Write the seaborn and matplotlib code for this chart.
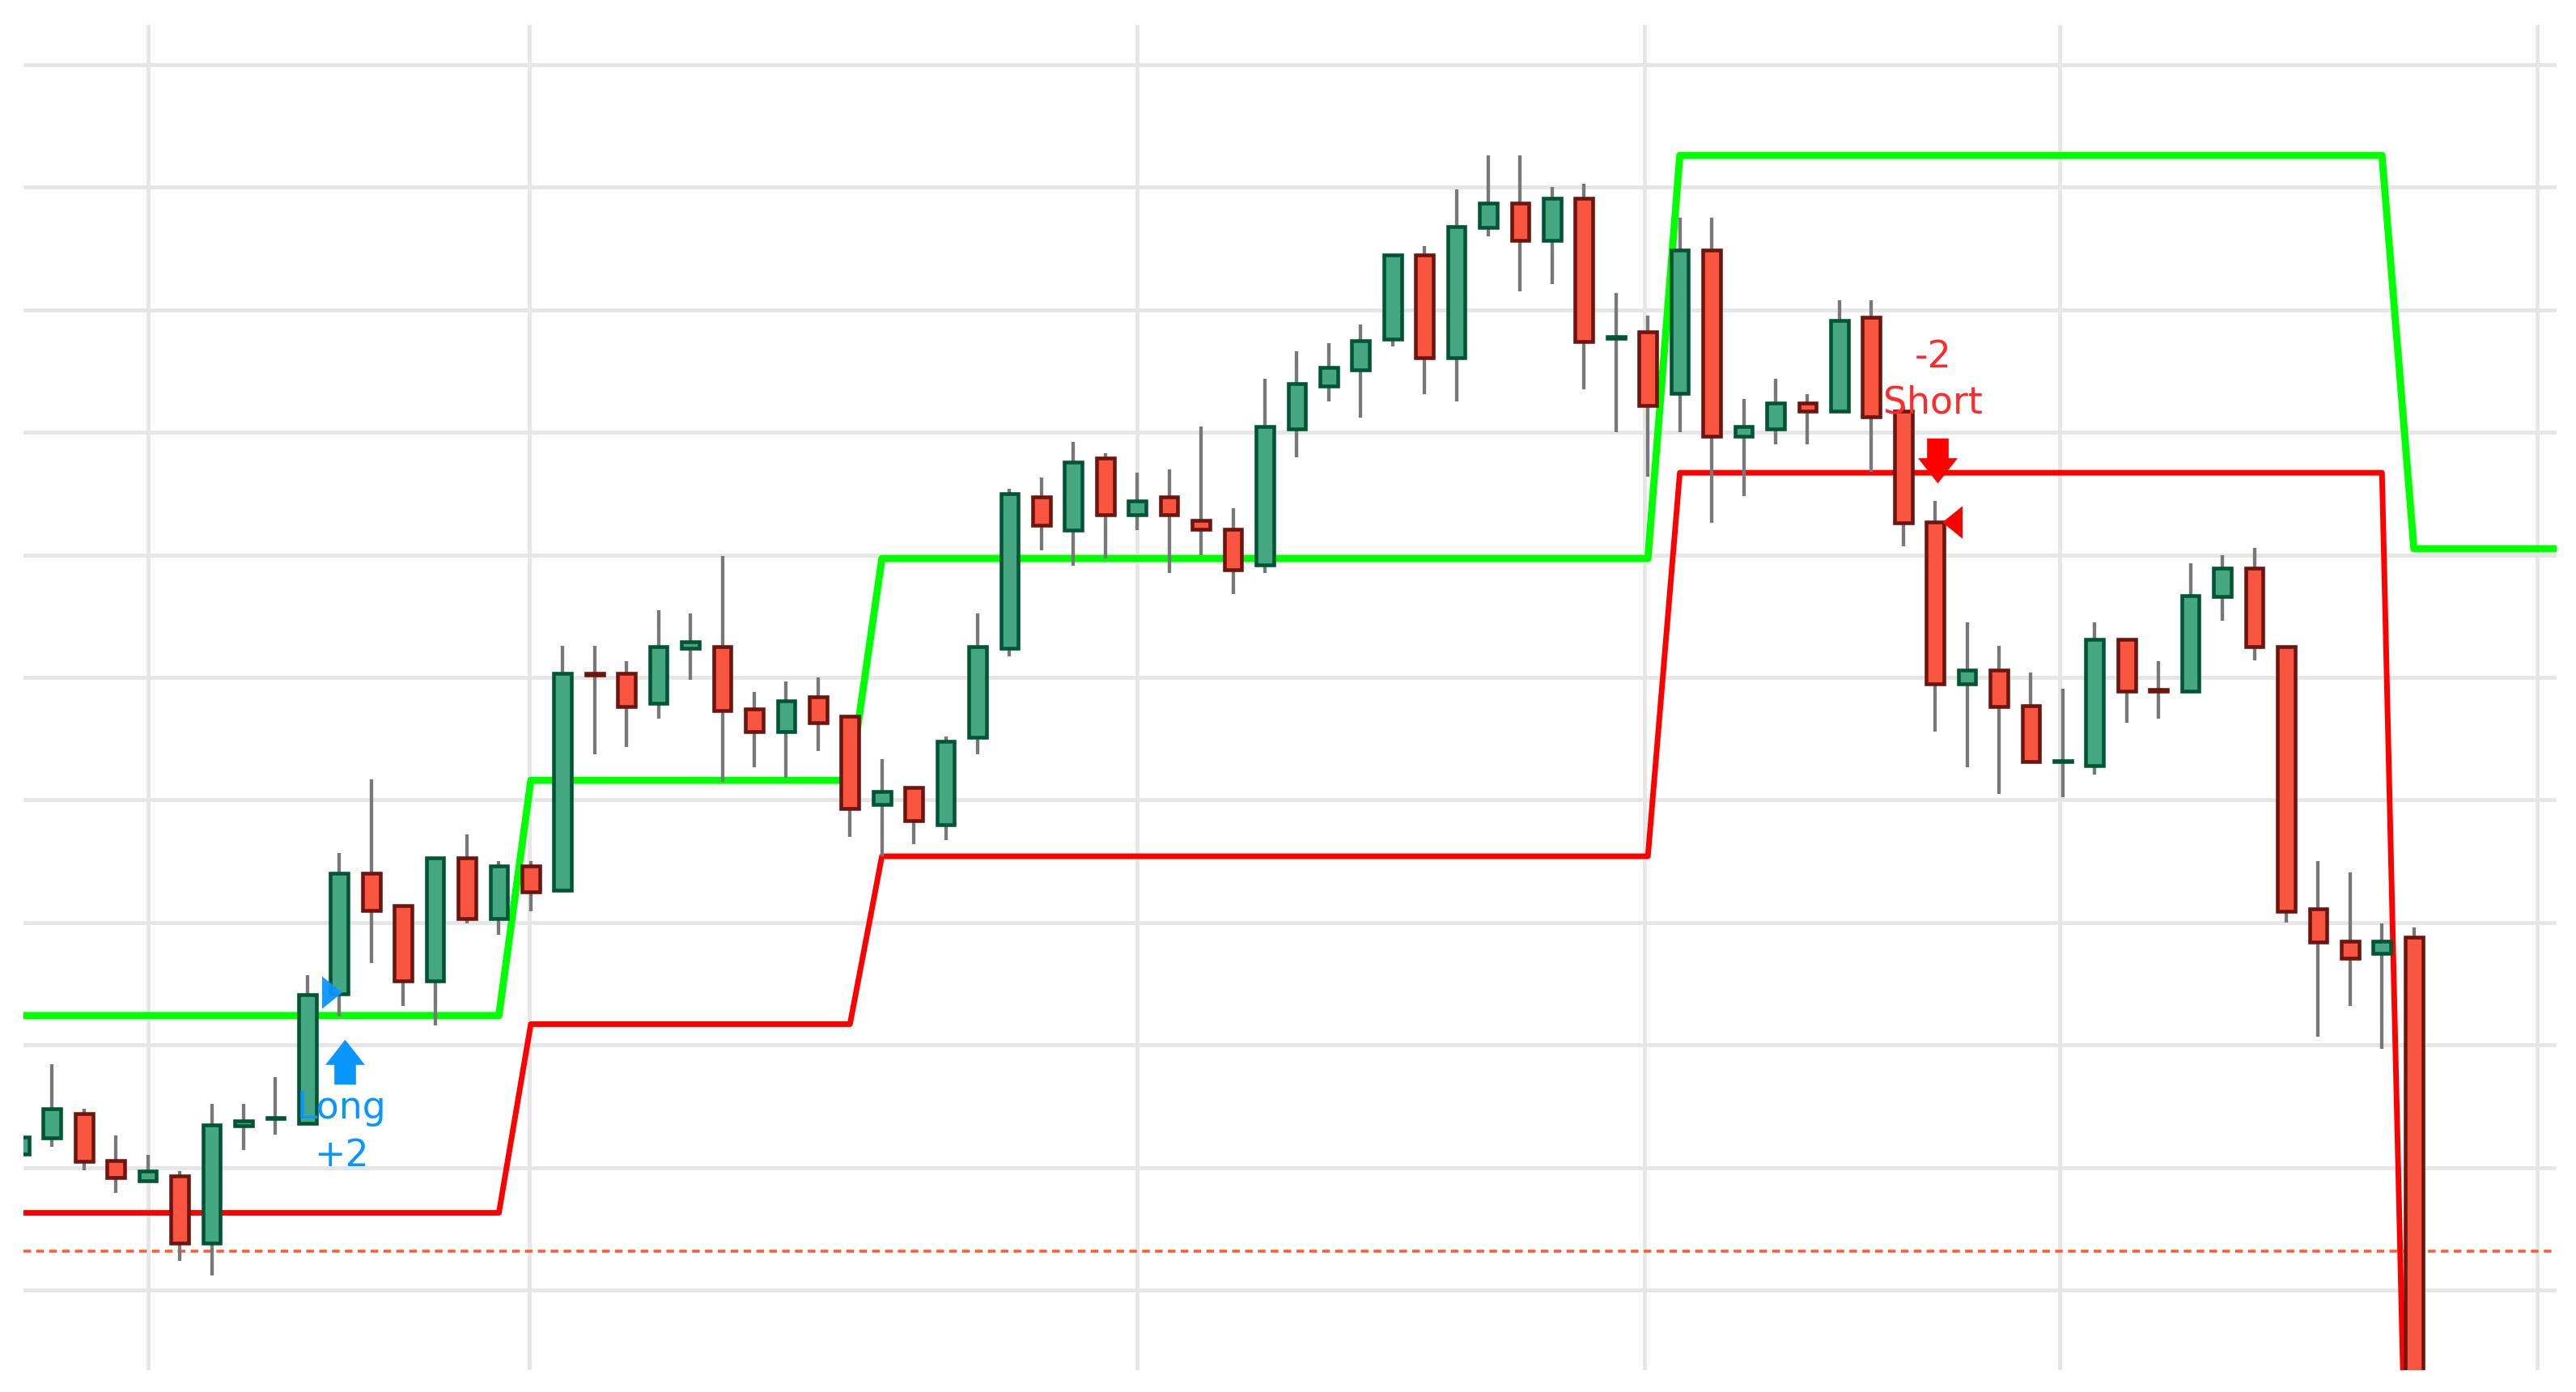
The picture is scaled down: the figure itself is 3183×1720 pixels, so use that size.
import numpy as np
import pandas as pd
import matplotlib.pyplot as plt
import seaborn as sns

# candle data (price in grid units, one gridline = 1.0)
opens = [1.11, 1.24, 1.44, 1.06, 0.89, 0.93, 0.38, 1.34, 1.40, 1.36,
         2.42, 3.40, 3.14, 2.52, 3.53, 3.03, 3.46, 3.26, 5.03, 5.03,
         4.79, 5.24, 5.25, 4.74, 4.56, 4.84, 4.68, 3.96, 4.10, 3.80,
         4.51, 5.24, 6.47, 6.20, 6.79, 6.33, 6.47, 6.28, 6.21, 5.92,
         7.03, 7.38, 7.51, 7.76, 8.45, 7.61, 8.67, 8.87, 8.57, 8.91,
         7.77, 7.82, 7.32, 8.49, 6.97, 7.03, 7.24, 7.17, 7.94, 7.17,
         6.27, 4.95, 5.06, 4.77, 4.31, 4.28, 5.31, 4.90, 4.89, 5.66,
         5.89, 5.25, 3.11, 2.85, 2.75, 2.88]
highs = [1.30, 1.84, 1.48, 1.26, 1.10, 0.97, 1.52, 1.52, 1.74, 2.57,
         3.57, 4.17, 3.14, 3.53, 3.72, 3.50, 3.50, 5.26, 5.26, 5.13,
         5.55, 5.52, 5.99, 4.88, 4.97, 5.00, 4.68, 4.33, 4.10, 4.52,
         5.52, 6.54, 6.63, 6.92, 6.83, 6.67, 6.70, 7.05, 6.38, 7.44,
         7.66, 7.73, 7.88, 8.45, 8.52, 8.98, 9.26, 9.26, 9.00, 9.03,
         8.14, 7.95, 8.75, 8.75, 7.27, 7.44, 7.31, 8.08, 8.08, 7.21,
         6.44, 5.45, 5.26, 5.04, 4.91, 5.45, 5.31, 5.13, 5.93, 6.00,
         6.06, 5.25, 3.50, 3.41, 2.99, 2.96]
lows = [1.05, 1.17, 0.98, 0.79, 0.89, 0.24, 0.12, 1.14, 1.27, 1.36,
        2.23, 2.67, 2.32, 2.16, 2.99, 2.90, 3.09, 3.26, 4.37, 4.43,
        4.66, 4.98, 4.15, 4.27, 4.18, 4.40, 3.70, 3.54, 3.64, 3.67,
        4.37, 5.17, 6.04, 5.91, 5.97, 6.20, 5.85, 6.00, 5.68, 5.85,
        6.80, 7.25, 7.12, 7.70, 7.31, 7.25, 8.60, 8.15, 8.21, 7.35,
        7.00, 6.64, 7.00, 6.26, 6.48, 6.90, 6.90, 7.17, 6.68, 6.07,
        4.56, 4.27, 4.05, 4.31, 4.02, 4.21, 4.63, 4.66, 4.89, 5.46,
        5.14, 3.00, 2.07, 2.32, 1.97, -1.90]
closes = [1.25, 1.48, 1.05, 0.92, 0.97, 0.38, 1.35, 1.38, 1.41, 2.41,
          3.40, 3.10, 2.52, 3.53, 3.03, 3.46, 3.25, 5.03, 5.02, 4.76,
          5.25, 5.29, 4.73, 4.56, 4.81, 4.63, 3.93, 4.07, 3.83, 4.48,
          5.25, 6.50, 6.24, 6.76, 6.33, 6.44, 6.33, 6.21, 5.88, 7.05,
          7.40, 7.53, 7.75, 8.45, 7.61, 8.68, 8.87, 8.57, 8.91, 7.74,
          7.78, 7.22, 8.49, 6.97, 7.05, 7.24, 7.17, 7.91, 7.13, 6.26,
          4.95, 5.06, 4.76, 4.31, 4.32, 5.31, 4.89, 4.89, 5.67, 5.89,
          5.25, 3.09, 2.84, 2.71, 2.85, -1.60]

# channel bands (one value per bar, continuing past the last candle)
upper_band = [2.24, 2.24, 2.24, 2.24, 2.24, 2.24, 2.24, 2.24, 2.24, 2.24,
              2.24, 2.24, 2.24, 2.24, 2.24, 2.24, 4.16, 4.16, 4.16, 4.16,
              4.16, 4.16, 4.16, 4.16, 4.16, 4.16, 4.16, 5.97, 5.97, 5.97,
              5.97, 5.97, 5.97, 5.97, 5.97, 5.97, 5.97, 5.97, 5.97, 5.97,
              5.97, 5.97, 5.97, 5.97, 5.97, 5.97, 5.97, 5.97, 5.97, 5.97,
              5.97, 5.97, 9.26, 9.26, 9.26, 9.26, 9.26, 9.26, 9.26, 9.26,
              9.26, 9.26, 9.26, 9.26, 9.26, 9.26, 9.26, 9.26, 9.26, 9.26,
              9.26, 9.26, 9.26, 9.26, 9.26, 6.05, 6.05, 6.05, 6.05, 6.05,
              6.05]
lower_band = [0.63, 0.63, 0.63, 0.63, 0.63, 0.63, 0.63, 0.63, 0.63, 0.63,
              0.63, 0.63, 0.63, 0.63, 0.63, 0.63, 2.17, 2.17, 2.17, 2.17,
              2.17, 2.17, 2.17, 2.17, 2.17, 2.17, 2.17, 3.54, 3.54, 3.54,
              3.54, 3.54, 3.54, 3.54, 3.54, 3.54, 3.54, 3.54, 3.54, 3.54,
              3.54, 3.54, 3.54, 3.54, 3.54, 3.54, 3.54, 3.54, 3.54, 3.54,
              3.54, 3.54, 6.67, 6.67, 6.67, 6.67, 6.67, 6.67, 6.67, 6.67,
              6.67, 6.67, 6.67, 6.67, 6.67, 6.67, 6.67, 6.67, 6.67, 6.67,
              6.67, 6.67, 6.67, 6.67, 6.67, -4.50, -4.50, -4.50, -4.50, -4.50,
              -4.50]

stop_level = 0.32
grid_x = [4.0, 15.95, 35.0, 50.9, 63.9, 78.85]
grid_y = [0, 1, 2, 3, 4, 5, 6, 7, 8, 9, 10]

# trade signals
signal_arrow_x = [10.17, 60.08]
signal_arrow_y = [1.865, 6.77]
entry_x = [9.77, 60.53]
entry_y = [2.43, 6.27]
long_text = ["Long", "+2"]
long_text_y = [1.40, 1.01]
long_text_x = 10.07
short_text = ["-2", "Short"]
short_text_y = [7.53, 7.155]
short_text_x = 59.94

BLUE = "#0a96ff"
RED = "#ff0000"


def main():
    sns.set_theme(style="whitegrid",
                  rc={"grid.color": "#e6e6e6", "grid.linewidth": 3.5})
    plt.rcParams['font.family'] = ['DejaVu Sans']

    df = pd.DataFrame({"open": opens, "high": highs, "low": lows, "close": closes})
    df["x"] = np.arange(len(df))
    bands = pd.DataFrame({"upper": upper_band, "lower": lower_band})
    bands["x"] = np.arange(len(bands))

    fig = plt.figure(figsize=(31.83, 17.20), dpi=100)
    ax = fig.add_axes([0.00911, 0.0157, 0.98335, 0.96628])

    # channel lines behind the candles
    sns.lineplot(data=bands, x="x", y="upper", color="#00ff00", linewidth=6.4,
                 ax=ax, zorder=2, legend=False)
    sns.lineplot(data=bands, x="x", y="lower", color=RED, linewidth=5.0,
                 ax=ax, zorder=2, legend=False)
    ax.axhline(stop_level, color="#ff5a3c", linewidth=2.6,
               linestyle=(0, (2.6, 1.8)), zorder=2)

    # candles
    up = df["close"] >= df["open"]
    fill = np.where(up, "#45a883", "#f95541")
    edge = np.where(up, "#005535", "#6e1510")
    ax.vlines(df["x"], df["low"], df["high"], color="#787878",
              linewidth=3.1, zorder=3)
    bottom = df[["open", "close"]].min(axis=1)
    height = (df["close"] - df["open"]).abs()
    ax.bar(df["x"], height, bottom=bottom, width=0.55, color=fill,
           edgecolor=edge, linewidth=3.3, zorder=4)

    # signal markers
    arrow_up = [(0, 1), (-0.88, -0.12), (-0.48, -0.12), (-0.48, -1),
                (0.48, -1), (0.48, -0.12), (0.88, -0.12), (0, 1)]
    arrow_down = [(vx, -vy) for vx, vy in arrow_up]
    tri_right = [(-0.62, 1), (0.62, 0), (-0.62, -1), (-0.62, 1)]
    tri_left = [(-vx, vy) for vx, vy in tri_right]

    ax.plot(signal_arrow_x[0], signal_arrow_y[0], marker=arrow_up, ms=40,
            color=BLUE, mew=0, ls="none", zorder=6)
    ax.plot(signal_arrow_x[1], signal_arrow_y[1], marker=arrow_down, ms=40,
            color=RED, mew=0, ls="none", zorder=6)
    ax.plot(entry_x[0], entry_y[0], marker=tri_right, ms=29,
            color=BLUE, mew=0, ls="none", zorder=6, alpha=0.95)
    ax.plot(entry_x[1], entry_y[1], marker=tri_left, ms=29,
            color=RED, mew=0, ls="none", zorder=6)

    for label, ty in zip(long_text, long_text_y):
        ax.text(long_text_x, ty, label, color=BLUE, fontsize=33,
                ha="center", va="baseline", zorder=7)
    for label, ty in zip(short_text, short_text_y):
        ax.text(short_text_x, ty, label, color="#ff2a2a", fontsize=33,
                ha="center", va="baseline", zorder=7)

    ax.set_xlim(0.104, 79.47)
    ax.set_ylim(-0.654, 10.324)
    ax.set_xticks(grid_x)
    ax.set_yticks(grid_y)
    ax.set_xticklabels([])
    ax.set_yticklabels([])
    ax.tick_params(length=0)
    ax.set_xlabel('')
    ax.set_ylabel('')
    for s in ax.spines.values():
        s.set_visible(False)
    ax.grid(True, zorder=0)
    ax.set_axisbelow(True)

    fig.savefig("out.png", dpi=100)


main()
